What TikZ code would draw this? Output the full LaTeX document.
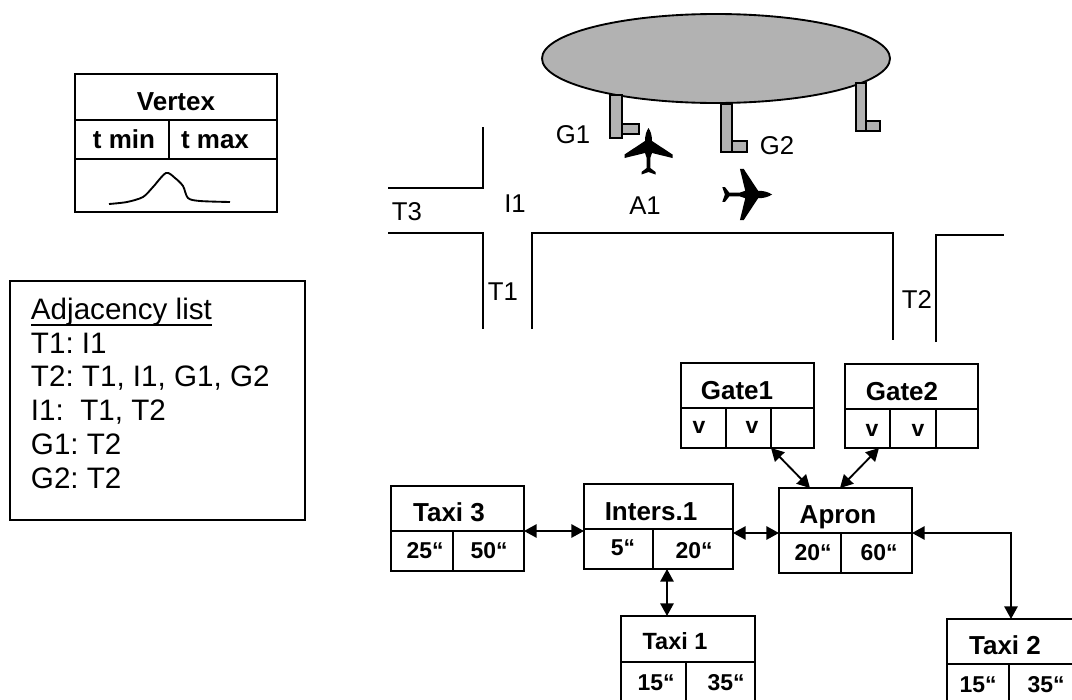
\documentclass[tikz,border=0pt]{standalone}
\usepackage{fontspec}
\setmainfont{Liberation Sans}
\usetikzlibrary{fit,arrows.meta}
\tikzset{
	cell/.style={draw,inner sep=0pt,outer sep=0pt,line width=1.5pt},
	tname/.style={inner sep=0pt,anchor=base,font=\fontsize{19.5pt}{23pt}\selectfont\bfseries},
	tcell/.style={inner sep=0pt,anchor=base,font=\fontsize{17.2pt}{20pt}\selectfont\bfseries},
	tplace/.style={inner sep=0pt,font=\fontsize{19.3pt}{23pt}\selectfont},
	tlist/.style={anchor=base west,inner sep=0pt,outer sep=0pt,align=left,font=\fontsize{22.2pt}{25.3pt}\selectfont\frenchspacing},
	road/.style={line width=1.4pt},
	link/.style={line width=1.4pt,{Triangle[length=9.5pt,width=10pt]}-{Triangle[length=9.5pt,width=10pt]}},
	gategray/.style={draw,fill=black!30,line width=1.4pt},
	plane/.pic={
		\fill (0,0) .. controls (2,3) and (3.5,7) .. (3.5,13) -- (24,26.5) -- (24,30) -- (3.5,25) -- (1.8,30) -- (1.8,40) -- (7,44) -- (7,46.5) -- (0,44) -- (-7,46.5) -- (-7,44) -- (-1.8,40) -- (-1.8,30) -- (-3.5,25) -- (-24,30) -- (-24,26.5) -- (-3.5,13) .. controls (-3.5,7) and (-2,3) .. (0,0) -- cycle;
	}
}
\begin{document}
\begin{tikzpicture}[x=0.75pt,y=-0.75pt]
	\useasboundingbox (0,0) rectangle (1072,700);
	\clip (0,0) rectangle (1072,700);

	\node[cell,fit={(75,74)(277,120)}] (vertex) {};
	\node[cell,fit={(75,120)(169,159)}] (tmin) {};
	\node[cell,fit={(169,120)(277,159)}] (tmax) {};
	\node[cell,fit={(75,159)(277,212)}] (curve) {};
	\node[tname] (vertext) at (176,110) {Vertex};
	\node[tname] (tmint) at (124,148) {t min};
	\node[tname] (tmaxt) at (215,148) {t max};
	\draw[line width=1.4pt] plot[smooth] coordinates {(109,204) (127,202) (143,197) (153,187) (166,173) (175,178) (183,186) (188,198) (200,201) (230,202)};

	\node[cell,fit={(10,281)(305,520)}] (adjbox) {};
	\node[tlist] (adjtitle) at (31,319) {Adjacency list};
	\draw[line width=1.7pt] (adjtitle.south west) -- (adjtitle.south east);
	\node[tlist] (adjlist) at (31,488) {T1: I1\\T2: T1, I1, G1, G2\\I1:\ \ T1, T2\\G1: T2\\G2: T2};

	\draw[fill=black!30,line width=1.4pt] (716,58.5) ellipse [x radius=174,y radius=44.5];
	\draw[gategray] (610,95) rectangle (622,138);
	\draw[gategray] (622,124) rectangle (639,134);
	\draw[gategray] (721,104) rectangle (732,152);
	\draw[gategray] (732,141) rectangle (747,152);
	\draw[gategray] (856,83) rectangle (866,131);
	\draw[gategray] (866,121) rectangle (880,131);
	\pic at (648.5,128) {plane};
	\pic[rotate=-90,scale=1.07] at (772,194.5) {plane};

	\draw[road] (388,188) -- (483,188) -- (483,127);
	\draw[road] (388,233) -- (483,233) -- (483,329);
	\draw[road] (532,329) -- (532,233) -- (893,233) -- (893,340);
	\draw[road] (936,342) -- (936,235) -- (1004,235);

	\node[tplace] (g1) at (573,135) {G1};
	\node[tplace] (g2) at (777,146) {G2};
	\node[tplace] (a1) at (645,206) {A1};
	\node[tplace] (t3) at (407,212) {T3};
	\node[tplace] (i1) at (515,204) {I1};
	\node[tplace] (t1) at (503,292) {T1};
	\node[tplace] (t2) at (917,300) {T2};

	\node[cell,fit={(391,486)(524,531)}] (taxi3) {};
	\node[cell,fit={(391,531)(453,571)}] (taxi3a) {};
	\node[cell,fit={(453,531)(524,571)}] (taxi3b) {};
	\node[tname] (taxi3t) at (449,521) {Taxi 3};
	\node[tcell] (taxi3at) at (425,558) {25“};
	\node[tcell] (taxi3bt) at (489,558) {50“};

	\node[cell,fit={(584,484)(733,529)}] (inters) {};
	\node[cell,fit={(584,529)(653,569)}] (intersa) {};
	\node[cell,fit={(653,529)(733,569)}] (intersb) {};
	\node[tname] (interst) at (651,520) {Inters.1};
	\node[tcell] (intersat) at (623,555) {5“};
	\node[tcell] (intersbt) at (694,558) {20“};

	\node[cell,fit={(621,616)(755,662)}] (taxi1) {};
	\node[cell,fit={(621,662)(686,704)}] (taxi1a) {};
	\node[cell,fit={(686,662)(755,704)}] (taxi1b) {};
	\node[tname,font=\fontsize{17.6pt}{21pt}\selectfont\bfseries] (taxi1t) at (675,649) {Taxi 1};
	\node[tcell] (taxi1at) at (656,690) {15“};
	\node[tcell] (taxi1bt) at (726,690) {35“};

	\node[cell,fit={(681,363)(814,408)}] (gate1) {};
	\node[cell,fit={(681,408)(726,448)}] (gate1a) {};
	\node[cell,fit={(726,408)(771,448)}] (gate1b) {};
	\node[cell,fit={(771,408)(814,448)}] (gate1c) {};
	\node[tname] (gate1t) at (737,399) {Gate1};
	\node[tcell] (gate1at) at (699,433) {v};
	\node[tcell] (gate1bt) at (752,433) {v};

	\node[cell,fit={(845,364)(978,409)}] (gate2) {};
	\node[cell,fit={(845,409)(890,448)}] (gate2a) {};
	\node[cell,fit={(890,409)(936,448)}] (gate2b) {};
	\node[cell,fit={(936,409)(978,448)}] (gate2c) {};
	\node[tname] (gate2t) at (902,400) {Gate2};
	\node[tcell] (gate2at) at (872,436) {v};
	\node[tcell] (gate2bt) at (918,436) {v};

	\node[cell,fit={(779,488)(912,533)}] (apron) {};
	\node[cell,fit={(779,533)(841,573)}] (aprona) {};
	\node[cell,fit={(841,533)(912,573)}] (apronb) {};
	\node[tname] (apront) at (838,523) {Apron};
	\node[tcell] (aprontat) at (813,560) {20“};
	\node[tcell] (apronbt) at (879,560) {60“};

	\node[cell,fit={(947,619)(1075,664)}] (taxi2) {};
	\node[cell,fit={(947,664)(1009,706)}] (taxi2a) {};
	\node[cell,fit={(1009,664)(1075,706)}] (taxi2b) {};
	\node[tname] (taxi2t) at (1005,654) {Taxi 2};
	\node[tcell] (taxi2at) at (978,692) {15“};
	\node[tcell] (taxi2bt) at (1046,692) {35“};

	\coordinate (intersdown) at (667,569);
	\coordinate (gate2out) at (879,448);
	\coordinate (apronleft) at (810,488);
	\coordinate (apronright) at (840,488);
	\draw[link] (taxi3.south east) -- (taxi3.south east -| inters.west);
	\draw[link] (apron.south west -| inters.east) -- (apron.south west);
	\draw[link] (intersdown) -- (intersdown |- taxi1.north);
	\draw[link] (gate1b.south east) -- (apronleft);
	\draw[link] (gate2out) -- (apronright);
	\draw[link] (apron.south east) -| (taxi2.north);
\end{tikzpicture}
\end{document}
